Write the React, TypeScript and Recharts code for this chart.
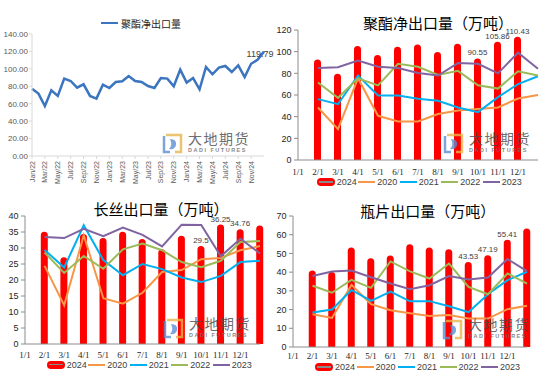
import React from 'react';
import { ComposedChart, LineChart, Line, Bar, XAxis, YAxis, LabelList } from 'recharts';

// x 轴刻度（1/1 在纵轴上，最后一个位置在右边缘）
const MONTH_TICKS = ['1/1', '2/1', '3/1', '4/1', '5/1', '6/1', '7/1', '8/1', '9/1', '10/1', '11/1', '12/1'];
const LABELED = ['10/1', '11/1', '12/1'];
const LEGEND_YEARS = ['2024', '2020', '2021', '2022', '2023'];
const LINE_COLORS: Record<string, string> = {
  '2020': '#F79646',
  '2021': '#00B0F0',
  '2022': '#9BBB59',
  '2023': '#8064A2',
};
const BAR_COLOR = '#FF0000';

// 聚酯净出口量 月度
const NET_MONTHS = [
  'Jan/22', 'Feb/22', 'Mar/22', 'Apr/22', 'May/22', 'Jun/22', 'Jul/22', 'Aug/22', 'Sep/22', 'Oct/22', 'Nov/22', 'Dec/22',
  'Jan/23', 'Feb/23', 'Mar/23', 'Apr/23', 'May/23', 'Jun/23', 'Jul/23', 'Aug/23', 'Sep/23', 'Oct/23', 'Nov/23', 'Dec/23',
  'Jan/24', 'Feb/24', 'Mar/24', 'Apr/24', 'May/24', 'Jun/24', 'Jul/24', 'Aug/24', 'Sep/24', 'Oct/24', 'Nov/24', 'Dec/24',
  'Jan/25',
];
const NET_TICK_LABELS = [
  'Jan/22', 'Mar/22', 'May/22', 'Jul/22', 'Sep/22', 'Nov/22', 'Jan/23', 'Mar/23', 'May/23',
  'Jul/23', 'Sep/23', 'Nov/23', 'Jan/24', 'Mar/24', 'May/24', 'Jul/24', 'Sep/24', 'Nov/24',
];
const NET_EXPORT = [
  77.3, 71.6, 57.4, 75.4, 68.9, 88.8, 86.1, 78.5, 82.3, 68.9, 65.9, 81.9,
  78.0, 84.9, 85.7, 91.8, 86.1, 84.9, 80.3, 78.0, 89.5, 88.8, 80.0, 99.1,
  84.2, 89.5, 76.5, 102.1, 93.8, 101.4, 103.3, 96.4, 104.1, 90.55, 105.86, 110.43,
  119.79,
];

// 聚酯净出口量（万吨） 2/1 起
const PET_2024 = [89.5, 76.5, 102.1, 93.8, 101.4, 103.3, 96.4, 104.1, 90.55, 105.86, 110.43, null];
const PET_2020 = [48.5, 28.5, 75.5, 40.8, 35.6, 35.6, 42.4, 45.7, 47.0, 48.5, 56.8, 59.9];
const PET_2021 = [56.2, 51.6, 78.0, 59.5, 59.5, 56.5, 54.6, 48.5, 44.2, 58.0, 70.0, 77.3];
const PET_2022 = [71.6, 57.4, 75.4, 68.9, 88.8, 86.1, 78.5, 82.3, 68.9, 65.9, 81.9, 78.0];
const PET_2023 = [84.9, 85.7, 91.8, 86.1, 84.9, 80.3, 78.0, 89.5, 88.8, 80.0, 99.1, 84.2];

// 长丝出口量（万吨）
const FIL_2024 = [34.0, 26.0, 33.3, 32.0, 34.0, 31.7, 28.5, 32.7, 29.5, 36.25, 34.76, 35.9];
const FIL_2020 = [24.4, 12.1, 34.0, 14.3, 12.6, 16.0, 22.5, 23.1, 26.5, 26.9, 29.3, 30.6];
const FIL_2021 = [29.4, 23.9, 37.1, 26.2, 21.5, 25.0, 23.4, 20.8, 19.35, 21.3, 25.6, 26.0];
const FIL_2022 = [28.6, 22.2, 27.5, 23.5, 29.6, 31.4, 29.3, 25.6, 24.0, 26.0, 31.9, 32.2];
const FIL_2023 = [33.4, 33.1, 36.0, 33.7, 36.4, 34.1, 30.5, 37.3, 37.2, 27.4, 32.9, 28.3];

// 瓶片出口量（万吨）
const BOT_2024 = [39.0, 38.2, 51.3, 45.5, 47.0, 53.1, 51.3, 50.3, 43.53, 47.19, 55.41, 61.5];
const BOT_2020 = [17.5, 15.5, 33.2, 22.9, 19.6, 18.0, 16.6, 17.1, 15.2, 15.2, 20.2, 22.0];
const BOT_2021 = [18.4, 20.0, 30.5, 24.6, 29.6, 24.4, 24.5, 21.8, 18.6, 28.2, 35.7, 40.2];
const BOT_2022 = [32.7, 29.0, 35.9, 31.6, 45.7, 40.4, 36.6, 44.6, 32.1, 28.2, 39.3, 33.9];
const BOT_2023 = [37.9, 40.3, 40.9, 37.3, 33.9, 30.9, 33.0, 37.9, 36.1, 37.1, 47.0, 40.5];

function buildRows(s2024: (number | null)[], s2020: number[], s2021: number[], s2022: number[], s2023: number[]) {
  return s2020.map((_, i) => ({
    x: i + 1,
    y2024: s2024[i],
    y2020: s2020[i],
    y2021: s2021[i],
    y2022: s2022[i],
    y2023: s2023[i],
  }));
}

const SANS = 'Liberation Sans, Arial, sans-serif';
const SERIF = 'Liberation Serif, Times New Roman, serif';
const CJK = 'Noto Sans CJK SC, sans-serif';

// 圆头柱子（顶部半圆在数值之上）
const Capsule = (props: any) => {
  const { x, y, width, height, fill } = props;
  if (height == null || !(height > 0) || width == null) return null;
  const r = width / 2;
  return (
    <path
      d={`M${x},${y + height}L${x},${y}A${r},${r} 0 0 1 ${x + width},${y}L${x + width},${y + height}Z`}
      fill={fill}
    />
  );
};

function Watermark({ x, y }: { x: number; y: number }) {
  return (
    <div style={{ position: 'absolute', left: x, top: y, display: 'flex', alignItems: 'center', opacity: 0.8, pointerEvents: 'none' }}>
      <svg width={21} height={21}>
        <path d="M2,3 L2,19 L8,19" stroke="#5B8FD3" strokeWidth={2.5} fill="none" />
        <path d="M4,2 L19,2 L19,19 L13,19" stroke="#E6B64A" strokeWidth={2.5} fill="none" />
        <path d="M8,6 Q15,6 14,12 Q13,17 7,16 Q11,12 8,6 Z" fill="#5B8FD3" />
      </svg>
      <div style={{ marginLeft: 5, position: 'relative', width: 64, height: 22 }}>
        <span style={{ position: 'absolute', left: 0, top: -2, fontFamily: CJK, fontSize: 14, lineHeight: '16px', color: '#4a4a4a', letterSpacing: 1.5, whiteSpace: 'nowrap' }}>
          大地期货
        </span>
        <span style={{ position: 'absolute', left: 0, top: 15, fontFamily: SANS, fontSize: 5.5, lineHeight: '6px', color: '#6a6a6a', letterSpacing: 1.5, fontWeight: 700, whiteSpace: 'nowrap' }}>
          DADI FUTURES
        </span>
      </div>
    </div>
  );
}

function YearLegend({ x, y }: { x: number; y: number }) {
  return (
    <>
      {LEGEND_YEARS.map((yr, i) => (
        <div
          key={yr}
          style={{
            position: 'absolute', left: x + i * 41.5, top: y - 6, height: 12,
            display: 'flex', alignItems: 'center', fontFamily: SANS, fontSize: 9, color: '#404040',
          }}
        >
          {yr === '2024' ? (
            <span style={{ position: 'relative', display: 'inline-block', width: 18, height: 8, borderRadius: 4, background: BAR_COLOR }}>
              <span style={{ position: 'absolute', left: 2, right: 2, top: 3.25, height: 1.5, background: '#8a8a8a' }} />
            </span>
          ) : (
            <span style={{ display: 'inline-block', width: 17, height: 2, background: LINE_COLORS[yr] }} />
          )}
          <span style={{ marginLeft: 2, lineHeight: '10px' }}>{yr}</span>
        </div>
      ))}
    </>
  );
}

function Title({ text, cx, cy }: { text: string; cx: number; cy: number }) {
  return (
    <span
      style={{
        position: 'absolute', left: cx, top: cy, transform: 'translate(-50%, -50%)', lineHeight: '15px',
        whiteSpace: 'nowrap', fontFamily: CJK, fontSize: 15, color: '#000',
      }}
    >
      {text}
    </span>
  );
}

interface PanelProps {
  left: number;
  top: number;
  height: number;
  title: string;
  titleX: number;
  titleY: number;
  rows: any[];
  yMax: number;
  yStep: number;
  marginTop: number;
  marginRight: number;
  yWidth: number;
  xHeight: number;
  xTickMargin: number;
  legendX: number;
  legendY: number;
  markX: number;
  markY: number;
}

function YearPanel(p: PanelProps) {
  const yTicks: number[] = [];
  for (let v = 0; v <= p.yMax; v += p.yStep) yTicks.push(v);
  const shownIdx = LABELED.map(c => MONTH_TICKS.indexOf(c) - 1);
  const shownVals = shownIdx.map(i => p.rows[i].y2024);

  const barLabel = (lp: any) => {
    const vb = lp.viewBox && lp.viewBox.width !== undefined ? lp.viewBox : lp;
    const show = lp.index !== undefined ? shownIdx.includes(lp.index) : shownVals.includes(lp.value);
    if (!show || lp.value == null) return null;
    return (
      <text x={vb.x + vb.width / 2} y={vb.y - 9} textAnchor="middle" dominantBaseline="central" fontSize={8} fontFamily={SANS} fill="#404040">
        {lp.value}
      </text>
    );
  };

  return (
    <div style={{ position: 'absolute', left: p.left, top: p.top, width: 275, height: p.height }}>
      <ComposedChart
        width={275}
        height={p.height}
        data={p.rows}
        margin={{ top: p.marginTop, right: p.marginRight, bottom: 0, left: 0 }}
      >
        <XAxis
          type="number"
          dataKey="x"
          domain={[0, 12]}
          ticks={MONTH_TICKS.map((_, i) => i)}
          tickFormatter={(v: number) => MONTH_TICKS[v]}
          interval={0}
          height={p.xHeight}
          tickLine={false}
          tickSize={4}
          tickMargin={p.xTickMargin}
          axisLine={{ stroke: '#8c8c8c' }}
          tick={{ fontSize: 9, fill: '#262626', fontFamily: SERIF }}
        />
        <YAxis
          domain={[0, p.yMax]}
          ticks={yTicks}
          interval={0}
          width={p.yWidth}
          tickSize={4}
          tickMargin={2.5}
          axisLine={{ stroke: '#8c8c8c' }}
          tickLine={{ stroke: '#8c8c8c' }}
          tick={{ fontSize: 9, fill: '#262626', fontFamily: SANS }}
        />
        <Bar dataKey="y2024" fill={BAR_COLOR} barSize={7} shape={Capsule} isAnimationActive={false}>
          <LabelList dataKey="y2024" content={barLabel} />
        </Bar>
        {['2020', '2021', '2022', '2023'].map(yr => (
          <Line
            key={yr}
            dataKey={`y${yr}`}
            stroke={LINE_COLORS[yr]}
            strokeWidth={2}
            dot={false}
            type="linear"
            isAnimationActive={false}
          />
        ))}
      </ComposedChart>
      <Title text={p.title} cx={p.titleX} cy={p.titleY} />
      <YearLegend x={p.legendX} y={p.legendY} />
      <Watermark x={p.markX} y={p.markY} />
    </div>
  );
}

const RotTick = ({ x, y, payload }: any) => (
  <text
    x={x}
    y={y}
    transform={`rotate(-90 ${x} ${y})`}
    textAnchor="end"
    dominantBaseline="central"
    fontSize={7}
    fill="#595959"
    fontFamily={SANS}
  >
    {NET_MONTHS[payload.value]}
  </text>
);

function NetExportPanel() {
  const data = NET_EXPORT.map((v, i) => ({ i, v }));
  const lastIdx = NET_EXPORT.length - 1;
  const tickIdx = NET_TICK_LABELS.map(l => NET_MONTHS.indexOf(l));
  const yTicks = [0, 20, 40, 60, 80, 100, 120, 140];

  const lastLabel = (lp: any) => {
    const vb = lp.viewBox && lp.viewBox.x !== undefined ? lp.viewBox : lp;
    const show = lp.index !== undefined ? lp.index === lastIdx : lp.value === NET_EXPORT[lastIdx];
    if (!show) return null;
    return (
      <text x={vb.x - 4} y={vb.y + 2.5} textAnchor="middle" dominantBaseline="central" fontSize={9} fontFamily={SANS} fill="#404040">
        {lp.value}
      </text>
    );
  };

  return (
    <div style={{ position: 'absolute', left: 0, top: 0, width: 275, height: 190 }}>
      <LineChart width={275} height={190} data={data} margin={{ top: 34, right: 11, bottom: 0, left: 0 }}>
        <XAxis
          type="number"
          dataKey="i"
          domain={[0, lastIdx]}
          ticks={tickIdx}
          interval={0}
          height={34}
          tickSize={3}
          tickMargin={2}
          axisLine={{ stroke: '#d9d9d9' }}
          tickLine={{ stroke: '#d9d9d9' }}
          tick={<RotTick />}
        />
        <YAxis
          domain={[0, 140]}
          ticks={yTicks}
          interval={0}
          width={32}
          tickSize={3}
          tickMargin={1}
          axisLine={{ stroke: '#d9d9d9' }}
          tickLine={{ stroke: '#d9d9d9' }}
          tickFormatter={(v: number) => v.toFixed(2)}
          tick={{ fontSize: 8, fill: '#595959', fontFamily: SANS }}
        />
        <Line dataKey="v" stroke="#3B74BF" strokeWidth={2.5} dot={false} type="linear" isAnimationActive={false}>
          <LabelList dataKey="v" content={lastLabel} />
        </Line>
      </LineChart>
      <div style={{ position: 'absolute', left: 101, top: 16, height: 14, display: 'flex', alignItems: 'center' }}>
        <span style={{ display: 'inline-block', width: 17, height: 2.5, background: '#3B74BF' }} />
        <span style={{ marginLeft: 3, fontFamily: CJK, fontSize: 10, color: '#262626' }}>聚酯净出口量</span>
      </div>
      <Watermark x={162} y={132} />
    </div>
  );
}

export default function App() {
  return (
    <div style={{ position: 'fixed', left: 0, top: 0, width: 550, height: 379, background: '#fff', overflow: 'hidden' }}>
      <NetExportPanel />
      <YearPanel
        left={275}
        top={0}
        height={190}
        title="聚酯净出口量（万吨）"
        titleX={163}
        titleY={21.5}
        rows={buildRows(PET_2024, PET_2020, PET_2021, PET_2022, PET_2023)}
        yMax={120}
        yStep={20}
        marginTop={30}
        marginRight={12}
        yWidth={23}
        xHeight={30}
        xTickMargin={5}
        legendX={41.7}
        legendY={182}
        markX={168}
        markY={132}
      />
      <YearPanel
        left={0}
        top={190}
        height={189}
        title="长丝出口量（万吨）"
        titleX={161}
        titleY={18}
        rows={buildRows(FIL_2024, FIL_2020, FIL_2021, FIL_2022, FIL_2023)}
        yMax={40}
        yStep={5}
        marginTop={26}
        marginRight={15}
        yWidth={25}
        xHeight={35}
        xTickMargin={4}
        legendX={46.7}
        legendY={174.5}
        markX={163}
        markY={127}
      />
      <YearPanel
        left={275}
        top={190}
        height={189}
        title="瓶片出口量（万吨）"
        titleX={152.7}
        titleY={20}
        rows={buildRows(BOT_2024, BOT_2020, BOT_2021, BOT_2022, BOT_2023)}
        yMax={70}
        yStep={10}
        marginTop={26}
        marginRight={23}
        yWidth={18}
        xHeight={32}
        xTickMargin={1.5}
        legendX={40}
        legendY={177}
        markX={167}
        markY={128}
      />
    </div>
  );
}
